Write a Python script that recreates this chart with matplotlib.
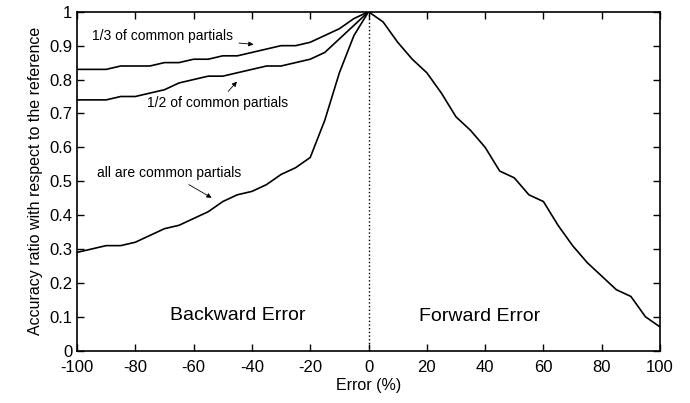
import matplotlib
matplotlib.use("Agg")
import matplotlib.pyplot as plt

plt.rcParams["font.family"] = ["Liberation Sans", "DejaVu Sans"]
plt.rcParams["axes.unicode_minus"] = False

# Backward side (negative error), sampled every 5 %
x_back = [-100, -95, -90, -85, -80, -75, -70, -65, -60, -55, -50,
          -45, -40, -35, -30, -25, -20, -15, -10, -5, 0]
third_common = [0.83, 0.83, 0.83, 0.84, 0.84, 0.84, 0.85, 0.85, 0.86, 0.86, 0.87,
                0.87, 0.88, 0.89, 0.90, 0.90, 0.91, 0.93, 0.95, 0.98, 1.0]
half_common = [0.74, 0.74, 0.74, 0.75, 0.75, 0.76, 0.77, 0.79, 0.80, 0.81, 0.81,
               0.82, 0.83, 0.84, 0.84, 0.85, 0.86, 0.88, 0.92, 0.96, 1.0]
all_common = [0.29, 0.30, 0.31, 0.31, 0.32, 0.34, 0.36, 0.37, 0.39, 0.41, 0.44,
              0.46, 0.47, 0.49, 0.52, 0.54, 0.57, 0.68, 0.82, 0.93, 1.0]

# Forward side (positive error)
x_fwd = [0, 5, 10, 15, 20, 25, 30, 35, 40, 45, 50,
         55, 60, 65, 70, 75, 80, 85, 90, 95, 100]
forward = [1.0, 0.97, 0.91, 0.86, 0.82, 0.76, 0.69, 0.65, 0.60, 0.53, 0.51,
           0.46, 0.44, 0.37, 0.31, 0.26, 0.22, 0.18, 0.16, 0.10, 0.07]

fig = plt.figure(figsize=(6.9, 4.03), dpi=100)
ax = fig.add_axes([0.1116, 0.1298, 0.845, 0.841])

lw = 1.2
ax.plot(x_back, third_common, color="black", linewidth=lw)
ax.plot(x_back, half_common, color="black", linewidth=lw)
ax.plot(x_back, all_common, color="black", linewidth=lw)
ax.plot(x_fwd, forward, color="black", linewidth=lw)
ax.plot([0, 0], [0, 1], color="black", linestyle=":", linewidth=1.0)

arrow = dict(arrowstyle="-|>", color="black", linewidth=0.6, mutation_scale=7)
ax.annotate("1/3 of common partials", xy=(-38.5, 0.903), xytext=(-94.7, 0.928),
            fontsize=10, va="center", ha="left", arrowprops=arrow)
ax.annotate("1/2 of common partials", xy=(-44.5, 0.80), xytext=(-76, 0.73),
            fontsize=10, va="center", ha="left", arrowprops=arrow)
ax.annotate("all are common partials", xy=(-53, 0.447), xytext=(-93, 0.523),
            fontsize=10, va="center", ha="left", arrowprops=arrow)

ax.text(-44.8, 0.103, "Backward Error", fontsize=14, ha="center", va="center")
ax.text(38, 0.10, "Forward Error", fontsize=14, ha="center", va="center")

ax.set_xlim(-100, 100)
ax.set_ylim(0, 1)
ax.set_xticks(range(-100, 101, 20))
ax.set_yticks([i / 10 for i in range(11)])
ax.set_yticklabels(["0"] + [f"{i / 10:g}" for i in range(1, 10)] + ["1"])
ax.tick_params(direction="in", top=True, right=True, labelsize=12, length=5, width=1)
ax.tick_params(axis="x", pad=7)
for s in ax.spines.values():
    s.set_linewidth(1.2)

ax.set_xlabel("Error (%)", fontsize=11.5, labelpad=2)
ax.set_ylabel("Accuracy ratio with respect to the reference", fontsize=11.5, labelpad=4)

fig.savefig("out.png", dpi=100)
